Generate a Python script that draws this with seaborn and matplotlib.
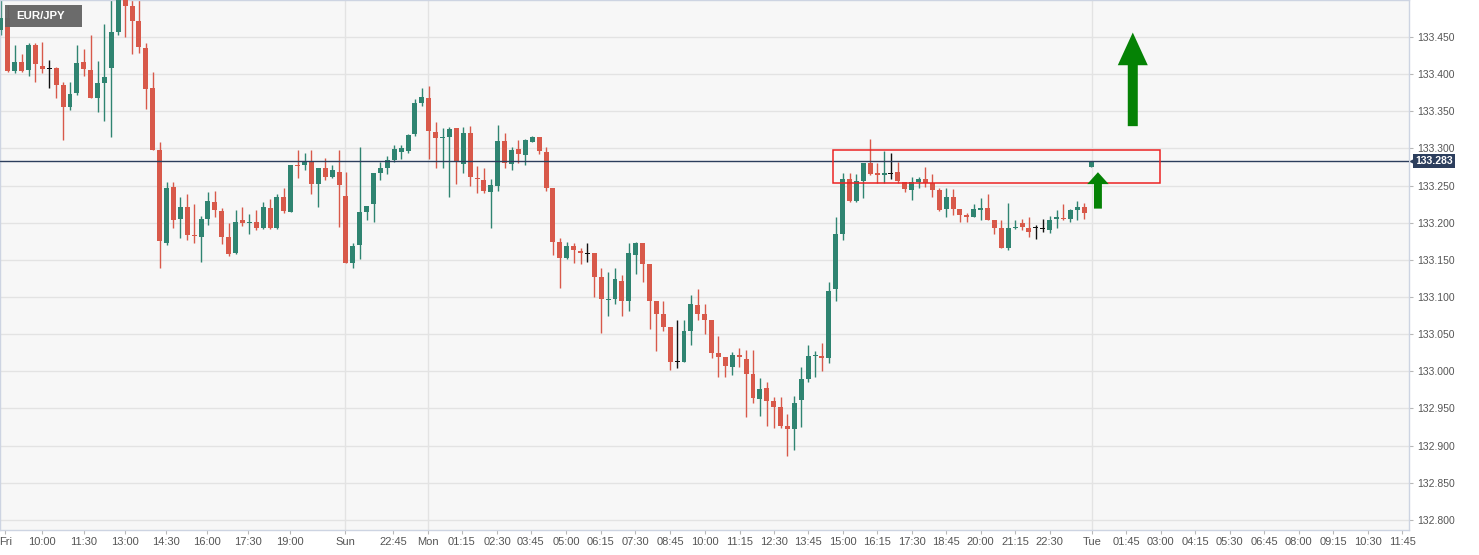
"""EUR/JPY 15-minute candlestick chart with a resistance zone and two up arrows."""

import matplotlib
matplotlib.use("Agg")

import matplotlib.pyplot as plt
import matplotlib.patches as mpatches
import matplotlib.transforms as mtransforms
import numpy as np
import pandas as pd
import seaborn as sns

# ---------------------------------------------------------------------------
# Data
# ---------------------------------------------------------------------------

PAIR = "EUR/JPY"
LAST_PRICE = 133.283

opens = [
    133.460, 133.476, 133.404, 133.417, 133.406, 133.439, 133.411, 133.408, 133.408, 133.386,
    133.356, 133.375, 133.417, 133.406, 133.368, 133.388, 133.408, 133.457, 133.510, 133.492,
    133.472, 133.435, 133.382, 133.298, 133.173, 133.248, 133.205, 133.221, 133.184, 133.181,
    133.205, 133.228, 133.216, 133.181, 133.159, 133.203, 133.199, 133.201, 133.193, 133.220,
    133.193, 133.235, 133.215, 133.278, 133.278, 133.282, 133.252, 133.273, 133.262, 133.268,
    133.236, 133.146, 133.170, 133.215, 133.225, 133.267, 133.274, 133.285, 133.295, 133.297,
    133.320, 133.361, 133.368, 133.322, 133.314, 133.316, 133.328, 133.279, 133.321, 133.260,
    133.258, 133.242, 133.250, 133.310, 133.279, 133.299, 133.291, 133.309, 133.316, 133.295,
    133.247, 133.174, 133.153, 133.169, 133.162, 133.159, 133.159, 133.127, 133.096, 133.098,
    133.122, 133.094, 133.157, 133.173, 133.145, 133.095, 133.077, 133.060, 133.013, 133.013,
    133.054, 133.089, 133.077, 133.069, 133.024, 133.019, 133.006, 133.022, 133.017, 132.997,
    132.963, 132.978, 132.960, 132.952, 132.927, 132.923, 132.962, 132.990, 133.021, 133.021,
    133.018, 133.111, 133.185, 133.259, 133.229, 133.256, 133.281, 133.266, 133.265, 133.266,
    133.268, 133.255, 133.244, 133.255, 133.259, 133.254, 133.244, 133.219, 133.235, 133.219,
    133.211, 133.208, 133.217, 133.220, 133.203, 133.193, 133.166, 133.193, 133.199, 133.193,
    133.194, 133.192, 133.190, 133.205, 133.207, 133.205, 133.217, 133.221, 133.275,
]
highs = [
    133.500, 133.493, 133.439, 133.427, 133.442, 133.442, 133.443, 133.419, 133.410, 133.390,
    133.390, 133.439, 133.434, 133.453, 133.418, 133.468, 133.515, 133.525, 133.525, 133.505,
    133.505, 133.442, 133.403, 133.308, 133.255, 133.255, 133.235, 133.239, 133.225, 133.209,
    133.242, 133.243, 133.220, 133.200, 133.217, 133.221, 133.212, 133.217, 133.228, 133.232,
    133.238, 133.247, 133.278, 133.298, 133.294, 133.298, 133.274, 133.287, 133.278, 133.298,
    133.268, 133.173, 133.302, 133.223, 133.267, 133.282, 133.290, 133.305, 133.305, 133.320,
    133.367, 133.382, 133.384, 133.336, 133.328, 133.329, 133.328, 133.329, 133.330, 133.277,
    133.274, 133.259, 133.332, 133.321, 133.302, 133.312, 133.313, 133.317, 133.316, 133.302,
    133.247, 133.180, 133.174, 133.173, 133.166, 133.173, 133.159, 133.139, 133.134, 133.139,
    133.130, 133.173, 133.174, 133.173, 133.145, 133.095, 133.095, 133.060, 133.069, 133.069,
    133.103, 133.111, 133.091, 133.069, 133.048, 133.019, 133.026, 133.032, 133.029, 133.029,
    132.991, 132.985, 132.966, 132.966, 132.943, 132.967, 133.006, 133.036, 133.028, 133.038,
    133.120, 133.208, 133.267, 133.267, 133.266, 133.281, 133.313, 133.281, 133.297, 133.294,
    133.282, 133.255, 133.262, 133.262, 133.275, 133.266, 133.247, 133.247, 133.246, 133.219,
    133.213, 133.225, 133.233, 133.239, 133.203, 133.204, 133.227, 133.204, 133.205, 133.208,
    133.197, 133.205, 133.209, 133.217, 133.225, 133.219, 133.229, 133.227, 133.283,
]
lows = [
    133.453, 133.403, 133.402, 133.403, 133.398, 133.390, 133.402, 133.382, 133.368, 133.312,
    133.352, 133.372, 133.398, 133.368, 133.349, 133.337, 133.316, 133.453, 133.450, 133.427,
    133.429, 133.353, 133.298, 133.139, 133.170, 133.193, 133.180, 133.177, 133.173, 133.147,
    133.197, 133.208, 133.172, 133.155, 133.158, 133.196, 133.185, 133.190, 133.192, 133.192,
    133.192, 133.213, 133.215, 133.260, 133.271, 133.239, 133.221, 133.258, 133.260, 133.194,
    133.146, 133.139, 133.151, 133.203, 133.201, 133.258, 133.266, 133.282, 133.286, 133.294,
    133.317, 133.357, 133.286, 133.274, 133.274, 133.235, 133.252, 133.267, 133.250, 133.240,
    133.240, 133.193, 133.243, 133.274, 133.271, 133.281, 133.278, 133.308, 133.293, 133.243,
    133.157, 133.112, 133.151, 133.146, 133.145, 133.147, 133.100, 133.052, 133.075, 133.091,
    133.075, 133.081, 133.131, 133.120, 133.057, 133.028, 133.054, 133.002, 133.005, 133.013,
    133.036, 133.069, 133.050, 133.018, 132.993, 132.993, 132.995, 133.006, 132.939, 132.958,
    132.940, 132.927, 132.924, 132.924, 132.886, 132.894, 132.925, 132.986, 132.993, 133.001,
    133.011, 133.094, 133.177, 133.228, 133.228, 133.233, 133.264, 133.254, 133.254, 133.259,
    133.254, 133.242, 133.231, 133.247, 133.248, 133.235, 133.216, 133.208, 133.211, 133.201,
    133.201, 133.208, 133.204, 133.203, 133.185, 133.166, 133.163, 133.192, 133.190, 133.181,
    133.178, 133.188, 133.186, 133.193, 133.203, 133.201, 133.204, 133.205, 133.275,
]
closes = [
    133.476, 133.404, 133.417, 133.404, 133.439, 133.413, 133.407, 133.408, 133.386, 133.356,
    133.373, 133.415, 133.407, 133.368, 133.388, 133.396, 133.457, 133.510, 133.492, 133.472,
    133.437, 133.380, 133.298, 133.176, 133.247, 133.204, 133.221, 133.184, 133.182, 133.205,
    133.229, 133.217, 133.181, 133.158, 133.201, 133.199, 133.201, 133.193, 133.221, 133.193,
    133.235, 133.216, 133.278, 133.277, 133.282, 133.252, 133.274, 133.262, 133.271, 133.251,
    133.146, 133.169, 133.215, 133.223, 133.267, 133.274, 133.285, 133.299, 133.301, 133.318,
    133.361, 133.369, 133.324, 133.314, 133.315, 133.326, 133.282, 133.321, 133.262, 133.259,
    133.243, 133.251, 133.310, 133.281, 133.298, 133.293, 133.312, 133.316, 133.297, 133.247,
    133.174, 133.153, 133.169, 133.163, 133.159, 133.159, 133.127, 133.098, 133.097, 133.124,
    133.094, 133.159, 133.173, 133.145, 133.095, 133.077, 133.060, 133.013, 133.013, 133.054,
    133.091, 133.077, 133.069, 133.024, 133.019, 133.007, 133.022, 133.019, 132.997, 132.964,
    132.976, 132.960, 132.952, 132.927, 132.923, 132.958, 132.990, 133.021, 133.022, 133.018,
    133.108, 133.185, 133.259, 133.229, 133.256, 133.281, 133.266, 133.265, 133.266, 133.266,
    133.256, 133.246, 133.255, 133.259, 133.254, 133.244, 133.217, 133.235, 133.219, 133.211,
    133.208, 133.219, 133.220, 133.204, 133.193, 133.166, 133.193, 133.194, 133.194, 133.188,
    133.194, 133.192, 133.203, 133.208, 133.205, 133.217, 133.221, 133.213, 133.283,
]
# unchanged bars drawn in black
flat_bars = [7, 85, 98, 129, 150, 151]

tick_labels = [
    "Fri", "10:00", "11:30", "13:00", "14:30", "16:00", "17:30", "19:00", "Sun",
    "22:45", "Mon", "01:15", "02:30", "03:45", "05:00", "06:15", "07:30", "08:45",
    "10:00", "11:15", "12:30", "13:45", "15:00", "16:15", "17:30", "18:45", "20:00",
    "21:15", "22:30", "Tue", "01:45", "03:00", "04:15", "05:30", "06:45", "08:00",
    "09:15", "10:30", "11:45",
]
tick_pos = [
    0.6, 5.95, 12.0, 18.0, 23.9, 29.9, 35.8, 41.9, 49.9,
    56.8, 61.9, 66.8, 71.9, 76.8, 81.9, 86.9, 91.9, 97.0,
    102.0, 107.1, 112.0, 117.0, 122.0, 127.0, 132.0, 137.0, 142.0,
    147.0, 152.0, 158.1, 163.1, 168.1, 173.1, 178.1, 183.1, 188.1,
    193.1, 198.1, 203.1,
]
day_breaks = [49.9, 61.9, 158.1]

price_ticks = [132.80, 132.85, 132.90, 132.95, 133.00, 133.05, 133.10, 133.15,
               133.20, 133.25, 133.30, 133.35, 133.40, 133.45]

# resistance box (bar index / price)
zone_x = (120.6, 168.0)
zone_y = (133.254, 133.298)

# arrows: (bar index, base price, tip price)
big_arrow = (164.05, 133.330, 133.456)
small_arrow = (159.0, 133.219, 133.268)

# ---------------------------------------------------------------------------
# Style
# ---------------------------------------------------------------------------

_UP = "#2f8471"
_DOWN = "#d8594a"
_FLAT = "#111111"
_BG = "#f7f7f7"
_GRID = "#e3e3e3"
_FRAME = "#cdd4e2"
_TEXT = "#555555"
_NAVY = "#2c3e5d"
_ARROW = "#058205"

W, H = 1479, 555
AX_RIGHT_PX, AX_BOTTOM_PX = 1409, 25

sns.set_style("white")
plt.rcParams["font.family"] = ["Liberation Sans", "DejaVu Sans"]

df = pd.DataFrame({"open": opens, "high": highs, "low": lows, "close": closes})
df["x"] = np.arange(len(df))
df["color"] = np.where(df["close"] >= df["open"], _UP, _DOWN)
df.loc[flat_bars, "color"] = _FLAT
min_body = 0.0016
df["body_lo"] = df[["open", "close"]].min(axis=1)
df["body_h"] = (df["close"] - df["open"]).abs()
thin = df["body_h"] < min_body
df.loc[thin, "body_lo"] = df.loc[thin, ["open", "close"]].mean(axis=1) - min_body / 2
df.loc[thin, "body_h"] = min_body

fig = plt.figure(figsize=(W / 100, H / 100), dpi=100)
fig.patch.set_facecolor("white")
ax = fig.add_axes([0, AX_BOTTOM_PX / H, AX_RIGHT_PX / W, (H - AX_BOTTOM_PX) / H])
ax.set_facecolor(_BG)

# grid
for p in price_ticks:
    ax.axhline(p, color=_GRID, lw=1, zorder=0)
for d in day_breaks:
    ax.axvline(d, color=_GRID, lw=1, zorder=0)

# candles
ax.vlines(df["x"], df["low"], df["high"], colors=df["color"], lw=1, zorder=2)
ax.bar(df["x"], df["body_h"], bottom=df["body_lo"], width=0.72,
       color=df["color"], linewidth=0, zorder=3)

# last price line + label
ax.axhline(LAST_PRICE, color=_NAVY, lw=1, zorder=4)
blend = mtransforms.blended_transform_factory(ax.transAxes, ax.transData)
ax.text(1.0045, LAST_PRICE, f"{LAST_PRICE:.3f}", transform=blend, ha="left",
        va="center", color="white", fontsize=7.6, fontweight="bold",
        bbox=dict(boxstyle="square,pad=0.22", fc=_NAVY, ec="none"),
        clip_on=False, zorder=6)
ax.plot([1.0025], [LAST_PRICE], marker="<", ms=4.5, color=_NAVY,
        transform=blend, clip_on=False, zorder=6)

# resistance zone
ax.add_patch(mpatches.Rectangle((zone_x[0], zone_y[0]), zone_x[1] - zone_x[0],
                                zone_y[1] - zone_y[0], fill=False,
                                ec="#ec2323", lw=1.1, zorder=5))

# arrows
for (ax_x, base, tip), shaft, head_w, head_l in [
    (big_arrow, 1.45, 4.35, 0.044),
    (small_arrow, 1.15, 3.1, 0.016),
]:
    ax.arrow(ax_x, base, 0, tip - base, width=shaft, head_width=head_w,
             head_length=head_l, length_includes_head=True,
             fc=_ARROW, ec="none", zorder=6)

# pair label
ax.add_patch(mpatches.Rectangle((5 / AX_RIGHT_PX, 1 - 27 / (H - AX_BOTTOM_PX)),
                                77 / AX_RIGHT_PX, 22 / (H - AX_BOTTOM_PX),
                                transform=ax.transAxes, fc="#636363", ec="none",
                                alpha=0.95, zorder=7))
ax.text(41 / AX_RIGHT_PX, 1 - 16 / (H - AX_BOTTOM_PX), PAIR, transform=ax.transAxes,
        ha="center", va="center", color="white", fontsize=8.2, fontweight="bold",
        zorder=8)

# axes
px_per_bar = 6.899
ax.set_xlim(-1 / px_per_bar, (AX_RIGHT_PX - 1) / px_per_bar)
ax.set_ylim(132.7864, 133.4998)

ax.yaxis.tick_right()
ax.set_yticks(price_ticks)
ax.set_yticklabels([f"{p:.3f}" for p in price_ticks])
ax.tick_params(axis="y", right=True, length=3, width=0.8, color="#b8b8b8",
               pad=3, labelsize=7.5, labelcolor=_TEXT)

ax.set_xticks(tick_pos)
ax.set_xticklabels(tick_labels)
ax.tick_params(axis="x", bottom=True, length=3, width=0.8, color="#b8b8b8",
               pad=2, labelsize=8, labelcolor=_TEXT)

for side in ["left", "right", "top", "bottom"]:
    ax.spines[side].set_visible(True)
    ax.spines[side].set_color(_FRAME)
    ax.spines[side].set_linewidth(1)

fig.savefig("out.png", dpi=100, facecolor="white")
